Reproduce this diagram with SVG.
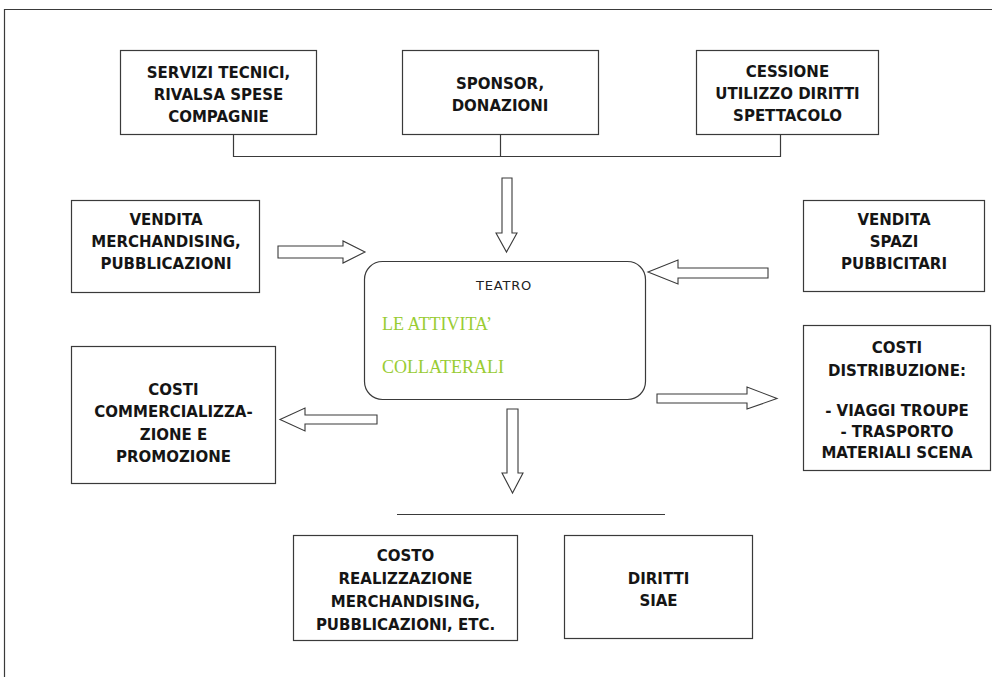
<svg xmlns="http://www.w3.org/2000/svg" width="992" height="677" viewBox="0 0 992 677">
<style>
.box{fill:#fff;stroke:#3a3a3a;stroke-width:1.2}
.arr{fill:#fff;stroke:#3a3a3a;stroke-width:1.1;stroke-linejoin:miter}
.ln{fill:none;stroke:#3a3a3a;stroke-width:1.2}
.t{font-family:"DejaVu Sans",sans-serif;font-weight:bold;font-size:15px;fill:#151515;text-anchor:middle}
.s{font-family:"DejaVu Sans",sans-serif;font-size:13px;letter-spacing:0.8px;fill:#222;text-anchor:middle}
.g{font-family:"Liberation Serif",serif;font-size:18px;fill:#99cc33}
</style>
<rect width="992" height="677" fill="#fff"/>
<path class="ln" d="M4.5,677 V9.5 H992"/>
<g id="n-servizi"><rect class="box" x="120.5" y="50.5" width="196" height="84"/>
<text class="t" x="218.5" y="78">SERVIZI TECNICI,</text><text class="t" x="218.5" y="100">RIVALSA SPESE</text><text class="t" x="218.5" y="122">COMPAGNIE</text></g>
<g id="n-sponsor"><rect class="box" x="402.5" y="50.5" width="196" height="84"/>
<text class="t" x="500" y="89">SPONSOR,</text><text class="t" x="500" y="111">DONAZIONI</text></g>
<g id="n-cessione"><rect class="box" x="696.5" y="50.5" width="182" height="84"/>
<text class="t" x="787.5" y="77">CESSIONE</text><text class="t" x="787.5" y="99">UTILIZZO DIRITTI</text><text class="t" x="787.5" y="121">SPETTACOLO</text></g>
<g id="n-vendita-merch"><rect class="box" x="71.5" y="200.5" width="188" height="92"/>
<text class="t" x="166" y="225">VENDITA</text><text class="t" x="166" y="247">MERCHANDISING,</text><text class="t" x="166" y="269">PUBBLICAZIONI</text></g>
<g id="n-vendita-spazi"><rect class="box" x="803.5" y="200.5" width="181" height="91"/>
<text class="t" x="894" y="225">VENDITA</text><text class="t" x="894" y="247">SPAZI</text><text class="t" x="894" y="269">PUBBICITARI</text></g>
<g id="n-teatro"><rect class="box" x="364.5" y="261.5" width="281" height="138" rx="18" ry="18"/>
<text class="s" x="504" y="290">TEATRO</text>
<text class="g" x="382" y="330">LE ATTIVITA’</text><text class="g" x="382" y="373">COLLATERALI</text></g>
<g id="n-costi-comm"><rect class="box" x="71.5" y="346.5" width="204" height="137"/>
<text class="t" x="173.5" y="395">COSTI</text><text class="t" x="173.5" y="417">COMMERCIALIZZA-</text><text class="t" x="173.5" y="440">ZIONE E</text><text class="t" x="173.5" y="462">PROMOZIONE</text></g>
<g id="n-costi-distr"><rect class="box" x="803.5" y="325.5" width="187" height="145"/>
<text class="t" x="897" y="353">COSTI</text><text class="t" x="897" y="376">DISTRIBUZIONE:</text>
<text class="t" x="897" y="416" font-size="14px">- VIAGGI TROUPE</text><text class="t" x="897" y="437" font-size="14px">- TRASPORTO</text><text class="t" x="897" y="458" font-size="14px">MATERIALI  SCENA</text></g>
<g id="n-costo-real"><rect class="box" x="293.5" y="535.5" width="224" height="105"/>
<text class="t" x="405.5" y="561">COSTO</text><text class="t" x="405.5" y="584">REALIZZAZIONE</text><text class="t" x="405.5" y="607">MERCHANDISING,</text><text class="t" x="405.5" y="630">PUBBLICAZIONI, ETC.</text></g>
<g id="n-diritti"><rect class="box" x="564.5" y="535.5" width="188" height="103"/>
<text class="t" x="658.5" y="584">DIRITTI</text><text class="t" x="658.5" y="606">SIAE</text></g>
<g id="connectors">
<path class="ln" d="M233.5,134.5 V156.5 H780.5 V134.5 M500.5,134.5 V156.5"/>
<path class="ln" d="M397,514.5 H665"/>
<polygon class="arr" points="502,178 512,178 512,233 517,233 506.5,252 496,233 502,233"/>
<polygon class="arr" points="278,246 343,246 343,241 365,252 343,263 343,258 278,258"/>
<polygon class="arr" points="768,268 678,268 678,260 648,272 678,284 678,278 768,278"/>
<polygon class="arr" points="657,394 747,394 747,387 777,398.5 747,409 747,403 657,403"/>
<polygon class="arr" points="377,415 305,415 305,408 280,419.5 305,431 305,424 377,424"/>
<polygon class="arr" points="507,409 518,409 518,473 523,473 512.5,493 502,473 507,473"/>
</g>
</svg>
